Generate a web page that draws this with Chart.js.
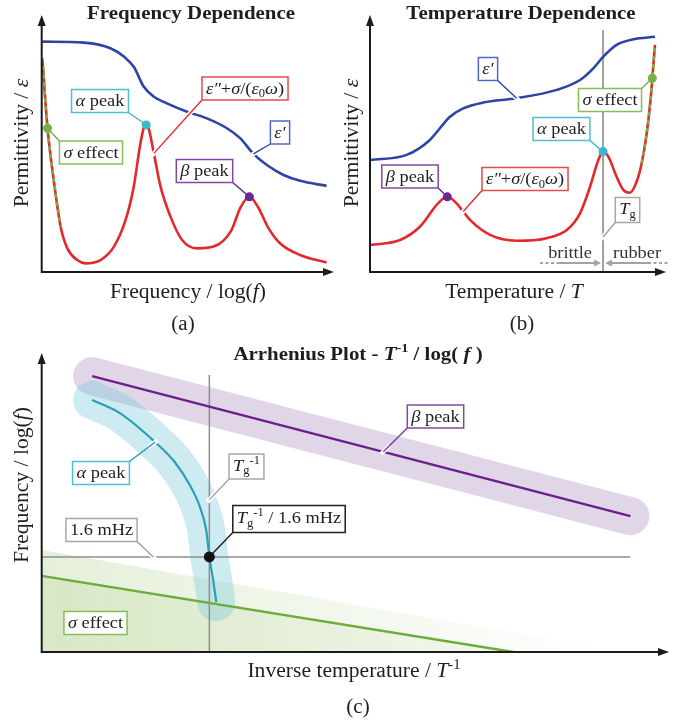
<!DOCTYPE html>
<html><head><meta charset="utf-8">
<script src="https://cdn.jsdelivr.net/npm/chart.js@4/dist/chart.umd.min.js"></script>
<style>
html,body{margin:0;padding:0;background:#fff;}
#wrap{position:relative;width:680px;height:724px;overflow:hidden;}
canvas{position:absolute;}
</style></head><body>
<div id="wrap">
<canvas id="ca" width="340" height="340" style="left:0;top:0;width:340px;height:340px"></canvas>
<canvas id="cb" width="340" height="340" style="left:340px;top:0;width:340px;height:340px"></canvas>
<canvas id="cc" width="680" height="384" style="left:0;top:340px;width:680px;height:384px"></canvas>
</div>
<script>
// ================= DATA (arbitrary units, axes 0..10) =================
// Panel (a) Frequency dependence: x = log(f), y = permittivity
const aEpsPrime = [[0.02,9.07],[1.45,9.03],[2.36,8.81],[2.82,8.48],[3.16,8.08],[3.50,7.30],[3.85,6.90],[4.30,6.64],[4.99,6.31],[5.67,6.05],[6.36,5.66],[6.82,5.26],[7.27,4.65],[7.73,4.21],[8.30,3.82],[8.87,3.59],[9.78,3.39]];
const aEpsLoss = [[0.02,8.41],[0.20,5.66],[0.42,3.56],[0.65,1.78],[0.88,0.93],[1.22,0.47],[1.51,0.34],[2.02,0.47],[2.48,1.00],[2.88,2.05],[3.16,3.36],[3.37,4.93],[3.50,5.66],[3.59,5.79],[3.67,5.66],[3.85,4.67],[4.08,3.36],[4.42,2.18],[4.82,1.26],[5.33,0.93],[5.90,1.00],[6.50,1.62],[6.83,2.55],[7.13,2.96],[7.43,2.55],[7.76,1.78],[8.18,1.13],[8.87,0.67],[9.78,0.37]];
const aSigma = aEpsLoss.slice(0,4);
const aAlphaPeak = [aEpsLoss[13]];
const aBetaPeak = [aEpsLoss[23]];
const aSigmaPt = [aEpsLoss[1]];

// Panel (b) Temperature dependence: x = T, y = permittivity
const bEpsPrime = [[0,4.41],[1.24,4.61],[2.03,5.20],[2.37,5.66],[2.71,6.11],[3.16,6.44],[3.84,6.67],[4.97,6.84],[6.33,7.17],[7.12,7.56],[7.57,8.02],[7.91,8.48],[8.36,8.94],[8.93,9.16],[9.66,9.26]];
const bEpsLoss = [[0,1.06],[1.02,1.26],[1.69,1.78],[2.32,2.72],[2.62,2.96],[2.92,2.72],[3.16,2.38],[3.39,2.05],[4.07,1.46],[4.97,1.23],[5.99,1.33],[6.67,1.65],[7.12,2.31],[7.46,3.36],[7.74,4.41],[7.90,4.74],[8.08,4.54],[8.36,3.75],[8.59,3.23],[8.81,3.12],[9.04,3.56],[9.21,4.28],[9.38,5.46],[9.52,6.90],[9.57,7.63],[9.66,8.94]];
const bSigma = bEpsLoss.slice(21);
const bAlphaPeak = [bEpsLoss[15]];
const bBetaPeak = [bEpsLoss[4]];
const bSigmaPt = [bEpsLoss[24]];
const bTg = 7.90, bTgTop = 9.53;

// Panel (c) Arrhenius plot: x = 1/T, y = log(f)
const cBeta = [[0.80,9.32],[9.34,4.59]];
const cAlpha = [[0.80,8.51],[1.24,8.07],[1.80,7.09],[2.11,6.42],[2.35,5.64],[2.51,4.90],[2.61,4.12],[2.66,3.21],[2.72,2.43],[2.77,1.69]];
const cSigma = [[0,2.57],[7.48,0]];
const cSigmaHalo = [[0,3.45],[9.26,0]];
const cTgInv = 2.66, cTgTop = 9.36;
const cF16 = 3.21, cF16End = 9.34;

// ================= HELPERS =================
const P = a => a.map(([x,y])=>({x,y}));
const SERIF = '"Liberation Serif","Times New Roman","DejaVu Serif",serif';
const N=t=>({t}), I=t=>({t,i:1}), SUB=t=>({t,sub:1}), SUP=t=>({t,sup:1});
function fontOf(s,r,bold){return (r.i?'italic ':'')+((bold||r.b)?'bold ':'')+s.toFixed(1)+'px '+SERIF;}
function runSize(size,r){return (r.sub||r.sup)?size*0.68:size;}
function measureRuns(ctx,runs,size,bold){let w=0;for(const r of runs){ctx.font=fontOf(runSize(size,r),r,bold);w+=ctx.measureText(r.t).width;}return w;}
function drawRuns(ctx,runs,x,y,size,o={}){
  const sx=o.sx||1; const w=measureRuns(ctx,runs,size,o.bold)*sx;
  ctx.save(); ctx.translate(o.align==='left'?x:x-w/2,y); ctx.scale(sx,1);
  ctx.fillStyle=o.color||'#1e1e1e'; ctx.textAlign='left'; ctx.textBaseline='alphabetic';
  let cx=0;
  for(const r of runs){const s=runSize(size,r);ctx.font=fontOf(s,r,o.bold);const dy=r.sub?size*0.22:(r.sup?-size*0.4:0);ctx.fillText(r.t,cx,dy);cx+=ctx.measureText(r.t).width;}
  ctx.restore(); return w;
}
function seg(ctx,x1,y1,x2,y2){ctx.beginPath();ctx.moveTo(x1,y1);ctx.lineTo(x2,y2);ctx.stroke();}
function tri(ctx,pts){ctx.beginPath();ctx.moveTo(pts[0],pts[1]);ctx.lineTo(pts[2],pts[3]);ctx.lineTo(pts[4],pts[5]);ctx.closePath();ctx.fill();}

const BOXSZ=17, BOXSX=1.08;
function drawBox(chart,b,haloFull){
  const ctx=chart.ctx; const xs=chart.scales.x, ys=chart.scales.y;
  const w=measureRuns(ctx,b.runs,BOXSZ)*BOXSX+8; const h=b.h||23;
  const x0=b.cx-w/2, y0=b.cy-h/2;
  if(b.anchor){
    let ax=xs.getPixelForValue(b.anchor[0]), ay=ys.getPixelForValue(b.anchor[1]);
    const c={tl:[x0,y0],tr:[x0+w,y0],bl:[x0,y0+h],br:[x0+w,y0+h]}[b.from];
    const dx=ax-c[0], dy=ay-c[1], L=Math.hypot(dx,dy), ux=dx/L, uy=dy/L;
    if(b.stop){ax-=ux*b.stop;ay-=uy*b.stop;}
    ctx.save(); ctx.lineCap='butt';
    if(!b.stop){
      ctx.strokeStyle='#fff'; ctx.lineWidth=4.5;
      const sx0=haloFull?c[0]:ax-ux*9, sy0=haloFull?c[1]:ay-uy*9;
      seg(ctx,sx0,sy0,ax+ux*3,ay+uy*3);
    }
    ctx.strokeStyle=b.line||b.color; ctx.lineWidth=1.4;
    seg(ctx,c[0],c[1],ax,ay); ctx.restore();
  }
  ctx.save();
  ctx.fillStyle='#fff'; ctx.fillRect(x0,y0,w,h);
  ctx.strokeStyle=b.color; ctx.lineWidth=1.5; ctx.strokeRect(x0,y0,w,h);
  ctx.restore();
  drawRuns(ctx,b.runs,b.cx,b.cy+BOXSZ*0.3+(b.dy||0),BOXSZ,{sx:BOXSX});
}
function makeDeco(cfg){
  return {id:'deco',afterDatasetsDraw(chart){
    const ctx=chart.ctx, ca=chart.chartArea;
    ctx.save();
    ctx.strokeStyle='#1b1b1b'; ctx.fillStyle='#1b1b1b'; ctx.lineWidth=2;
    ctx.beginPath(); ctx.moveTo(ca.left,ca.bottom+1); ctx.lineTo(ca.left,cfg.yTip+8);
    ctx.moveTo(ca.left-1,ca.bottom); ctx.lineTo(cfg.xTip-8,ca.bottom); ctx.stroke();
    tri(ctx,[ca.left,cfg.yTip,ca.left-4,cfg.yTip+11,ca.left+4,cfg.yTip+11]);
    tri(ctx,[cfg.xTip,ca.bottom,cfg.xTip-11,ca.bottom-4,cfg.xTip-11,ca.bottom+4]);
    ctx.restore();
    if(cfg.extra) cfg.extra(chart,ctx);
    for(const b of cfg.boxes) drawBox(chart,b,cfg.haloFull);
    for(const t of cfg.texts){
      if(t.rot){ctx.save();ctx.translate(t.x,t.y);ctx.rotate(-Math.PI/2);drawRuns(ctx,t.runs,0,0,t.size,{bold:t.bold,sx:t.sx});ctx.restore();}
      else drawRuns(ctx,t.runs,t.x,t.y,t.size,{bold:t.bold,sx:t.sx});
    }
  }};
}
function line(data,color,w,extra){return Object.assign({data:P(data),showLine:true,borderColor:color,borderWidth:w,pointRadius:0,cubicInterpolationMode:'monotone',fill:false},extra||{});}
function straight(data,color,w,extra){return Object.assign({data:P(data),showLine:true,borderColor:color,borderWidth:w,pointRadius:0,tension:0,fill:false},extra||{});}
function dot(data,color,r){return {data:P(data),showLine:false,pointRadius:r||4.5,pointBackgroundColor:color,pointBorderWidth:0,pointBorderColor:color};}
function opts(pad){return {responsive:false,animation:false,events:[],layout:{padding:pad},
  plugins:{legend:{display:false},tooltip:{enabled:false},title:{display:false}},
  scales:{x:{type:'linear',min:0,max:10,display:false},y:{type:'linear',min:0,max:10,display:false}}};}

const CYAN='#3ab7cb', RED='#e5282c', BLUE='#2d43a6', PURPLE='#6c2790', GREEN='#74b244', GRAYL='#a0a0a0';
const BX={cyan:'#4cc0d2',red:'#e64a4a',blue:'#5068c0',purple:'#8446a6',green:'#86bc5a',gray:'#a8a8a8',black:'#1e1e1e'};
const EPS2=[I('ε″'),N('+'),I('σ'),N('/('),I('ε'),SUB('0'),I('ω'),N(')')];

// ================= PANEL (a) =================
new Chart(document.getElementById('ca'),{
  type:'scatter',
  data:{datasets:[
    dot(aSigmaPt,GREEN), dot(aAlphaPeak,CYAN), dot(aBetaPeak,PURPLE),
    line(aSigma,GREEN,2.6,{borderDash:[4,4]}),
    line(aEpsLoss,RED,2.6),
    line(aEpsPrime,BLUE,2.6)
  ]},
  options:opts({left:41.7,top:18,right:7,bottom:68}),
  plugins:[makeDeco({yTip:15,xTip:334,haloFull:true,
    boxes:[
      {runs:[I('α'),N(' peak')],cx:100,cy:101,color:BX.cyan,line:CYAN,anchor:aAlphaPeak[0],from:'br',stop:3},
      {runs:[I('σ'),N(' effect')],cx:91,cy:152.5,color:BX.green,line:GREEN,anchor:aSigmaPt[0],from:'tl',stop:3},
      {runs:EPS2,cx:245,cy:88.5,color:BX.red,line:RED,anchor:aEpsLoss[15],from:'bl'},
      {runs:[I('ε′')],cx:280,cy:132.5,color:BX.blue,line:BLUE,anchor:aEpsPrime[12],from:'bl'},
      {runs:[I('β'),N(' peak')],cx:204.5,cy:171,color:BX.purple,line:PURPLE,anchor:aBetaPeak[0],from:'br',stop:3}
    ],
    texts:[
      {runs:[N('Frequency Dependence')],x:191,y:19,size:19,bold:true,sx:1.1},
      {runs:[N('Permittivity / '),I('ε')],x:28,y:143,size:20,sx:1.08,rot:true},
      {runs:[N('Frequency / log('),I('f'),N(')')],x:188,y:298,size:20,sx:1.08},
      {runs:[N('(a)')],x:183,y:330,size:20,sx:1.05}
    ]})]
});

// ================= PANEL (b) =================
new Chart(document.getElementById('cb'),{
  type:'scatter',
  data:{datasets:[
    dot(bSigmaPt,GREEN), dot(bAlphaPeak,CYAN), dot(bBetaPeak,PURPLE),
    line(bSigma,GREEN,2.6,{borderDash:[4,4]}),
    line(bEpsLoss,RED,2.6),
    line(bEpsPrime,BLUE,2.6),
    straight([[bTg,0],[bTg,bTgTop]],GRAYL,2)
  ]},
  options:opts({left:30,top:18,right:15,bottom:68}),
  plugins:[makeDeco({yTip:15,xTip:326,haloFull:true,
    extra(chart,ctx){
      const tx=chart.scales.x.getPixelForValue(bTg), y=263;
      ctx.save(); ctx.strokeStyle='#a3a3a3'; ctx.fillStyle='#a3a3a3'; ctx.lineWidth=2;
      ctx.setLineDash([3,2.5]); seg(ctx,tx-63,y,tx-45,y); seg(ctx,tx+45,y,tx+66,y); ctx.setLineDash([]);
      seg(ctx,tx-45,y,tx-8,y); tri(ctx,[tx-2,y,tx-9,y-3.5,tx-9,y+3.5]);
      seg(ctx,tx+8,y,tx+45,y); tri(ctx,[tx+2,y,tx+9,y-3.5,tx+9,y+3.5]);
      ctx.restore();
      drawRuns(ctx,[N('brittle')],tx-33,258,BOXSZ,{sx:BOXSX,color:'#333'});
      drawRuns(ctx,[N('rubber')],tx+34,258,BOXSZ,{sx:BOXSX,color:'#333'});
    },
    boxes:[
      {runs:[I('ε′')],cx:148,cy:69,color:BX.blue,line:BLUE,anchor:bEpsPrime[7],from:'br'},
      {runs:[I('σ'),N(' effect')],cx:270,cy:100,color:BX.green,line:GREEN,anchor:bSigmaPt[0],from:'tr',stop:3},
      {runs:[I('α'),N(' peak')],cx:221.5,cy:129,color:BX.cyan,line:CYAN,anchor:bAlphaPeak[0],from:'br',stop:3},
      {runs:[I('β'),N(' peak')],cx:70,cy:176.5,color:BX.purple,line:PURPLE,anchor:bBetaPeak[0],from:'br',stop:3},
      {runs:EPS2,cx:185,cy:179,color:BX.red,line:RED,anchor:bEpsLoss[6],from:'bl'},
      {runs:[I('T'),SUB('g')],cx:287.5,cy:210,h:25,dy:-1,color:BX.gray,line:GRAYL,anchor:[bTg,1.38],from:'bl'}
    ],
    texts:[
      {runs:[N('Temperature Dependence')],x:181,y:19,size:19,bold:true,sx:1.1},
      {runs:[N('Permittivity / '),I('ε')],x:17.5,y:143,size:20,sx:1.08,rot:true},
      {runs:[N('Temperature / '),I('T')],x:174,y:298,size:20,sx:1.08},
      {runs:[N('(b)')],x:182,y:330,size:20,sx:1.05}
    ]})]
});

// ================= PANEL (c) =================
function onLine(l,x){const [a,b]=l;return [x,a[1]+(x-a[0])/(b[0]-a[0])*(b[1]-a[1])];}
function sigmaFill(alpha0,alpha1,reach){return (c)=>{const ca=c.chart.chartArea;if(!ca)return 'rgba(0,0,0,0)';
  const g=c.chart.ctx.createLinearGradient(ca.left,0,ca.left+reach,0);
  g.addColorStop(0,'rgba(190,216,160,'+alpha0+')');g.addColorStop(1,'rgba(190,216,160,'+alpha1+')');return g;};}
new Chart(document.getElementById('cc'),{
  type:'scatter',
  data:{datasets:[
    dot([[cTgInv,cF16]],'#111',5.5),
    line(cAlpha,'#2a9fb5',2.2),
    straight(cBeta,'#6a1f8c',2.4),
    straight([[cTgInv,0],[cTgInv,cTgTop]],'#8e8e8e',1.5),
    straight([[0,cF16],[cF16End,cF16]],'#8e8e8e',1.5),
    straight(cSigma,'#6aad3a',2.4),
    line(cAlpha,'rgba(120,200,220,0.36)',38,{borderCapStyle:'round',borderJoinStyle:'round',clip:false}),
    straight(cBeta,'rgba(175,145,195,0.38)',38,{borderCapStyle:'round',borderJoinStyle:'round',clip:false}),
    straight(cSigma,'rgba(0,0,0,0)',0,{fill:'origin',backgroundColor:sigmaFill(0.35,0.1,470)}),
    straight(cSigmaHalo,'rgba(0,0,0,0)',0,{fill:'origin',backgroundColor:sigmaFill(0.4,0,570)})
  ]},
  options:opts({left:41.7,top:16,right:8,bottom:72}),
  plugins:[makeDeco({yTip:13,xTip:669,haloFull:false,
    boxes:[
      {runs:[I('α'),N(' peak')],cx:101,cy:133,color:BX.cyan,line:'#2a9fb5',anchor:cAlpha[2],from:'tr'},
      {runs:[I('T'),SUB('g'),SUP('-1')],cx:246.5,cy:126.5,h:25,dy:-1,color:BX.gray,line:GRAYL,anchor:[cTgInv,5.14],from:'bl'},
      {runs:[I('T'),SUB('g'),SUP('-1'),N(' / 1.6 mHz')],cx:289,cy:179,h:27,dy:-1,color:BX.black,line:'#1e1e1e',anchor:[cTgInv,cF16],from:'bl',stop:4},
      {runs:[N('1.6 mHz')],cx:101.5,cy:190,color:BX.gray,line:GRAYL,anchor:[1.77,cF16],from:'br'},
      {runs:[I('β'),N(' peak')],cx:435.5,cy:76.5,color:BX.purple,line:'#7a3a9a',anchor:onLine(cBeta,5.42),from:'bl'},
      {runs:[I('σ'),N(' effect')],cx:95.5,cy:283,color:BX.green}
    ],
    texts:[
      {runs:[N('Arrhenius Plot - '),I('T'),SUP('-1'),N(' / log( '),I('f'),N(' )')],x:358,y:20,size:19,bold:true,sx:1.1},
      {runs:[N('Frequency / log('),I('f'),N(')')],x:28,y:145,size:20,sx:1.08,rot:true},
      {runs:[N('Inverse temperature / '),I('T'),SUP('-1')],x:354,y:337,size:20,sx:1.08},
      {runs:[N('(c)')],x:358,y:373,size:20,sx:1.05}
    ]})]
});
</script>
</body></html>
